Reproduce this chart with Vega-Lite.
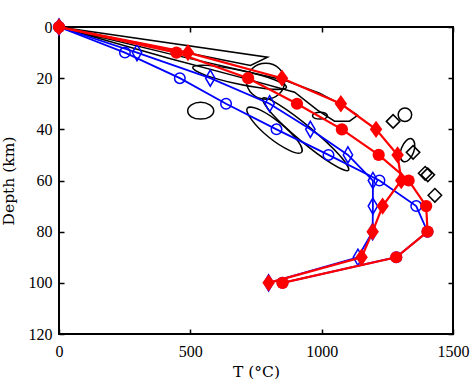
{
  "$schema": "https://vega.github.io/schema/vega-lite/v6.json",
  "width": 394,
  "height": 307,
  "autosize": {"type": "none"},
  "padding": {"left": 59, "top": 27, "right": 18, "bottom": 58},
  "config": {
    "view": {"stroke": "black", "strokeWidth": 2},
    "axis": {
      "labelFont": "Liberation Serif",
      "titleFont": "DejaVu Serif",
      "labelFontSize": 16,
      "titleFontSize": 15.5,
      "titleFontWeight": "normal",
      "labelColor": "black",
      "titleColor": "black",
      "tickColor": "black",
      "tickWidth": 1.5,
      "tickSize": -5,
      "domain": false,
      "grid": false,
      "labelFlush": false,
      "labelOverlap": false,
      "format": "d"
    }
  },
  "datasets": {
    "series": [
      {"s": "bc", "T": 0, "D": 0}, {"s": "bc", "T": 251, "D": 10}, {"s": "bc", "T": 460, "D": 20}, {"s": "bc", "T": 636, "D": 30}, {"s": "bc", "T": 828, "D": 40}, {"s": "bc", "T": 1026, "D": 50}, {"s": "bc", "T": 1220, "D": 60}, {"s": "bc", "T": 1360, "D": 70}, {"s": "bc", "T": 1403, "D": 80}, {"s": "bc", "T": 1284, "D": 90}, {"s": "bc", "T": 851, "D": 100},
      {"s": "bd", "T": 0, "D": 0}, {"s": "bd", "T": 297, "D": 10}, {"s": "bd", "T": 576, "D": 20}, {"s": "bd", "T": 802, "D": 30}, {"s": "bd", "T": 957, "D": 40}, {"s": "bd", "T": 1100, "D": 50}, {"s": "bd", "T": 1195, "D": 60}, {"s": "bd", "T": 1195, "D": 70}, {"s": "bd", "T": 1194, "D": 80}, {"s": "bd", "T": 1138, "D": 90}, {"s": "bd", "T": 798, "D": 100},
      {"s": "rc", "T": 0, "D": 0}, {"s": "rc", "T": 447, "D": 10}, {"s": "rc", "T": 720, "D": 20}, {"s": "rc", "T": 906, "D": 30}, {"s": "rc", "T": 1077, "D": 40}, {"s": "rc", "T": 1217, "D": 50}, {"s": "rc", "T": 1331, "D": 60}, {"s": "rc", "T": 1398, "D": 70}, {"s": "rc", "T": 1403, "D": 80}, {"s": "rc", "T": 1284, "D": 90}, {"s": "rc", "T": 851, "D": 100},
      {"s": "rd", "T": 0, "D": 0}, {"s": "rd", "T": 491, "D": 10}, {"s": "rd", "T": 849, "D": 20}, {"s": "rd", "T": 1073, "D": 30}, {"s": "rd", "T": 1207, "D": 40}, {"s": "rd", "T": 1289, "D": 50}, {"s": "rd", "T": 1303, "D": 60}, {"s": "rd", "T": 1232, "D": 70}, {"s": "rd", "T": 1194, "D": 80}, {"s": "rd", "T": 1152, "D": 90}, {"s": "rd", "T": 798, "D": 100}
    ],
    "polys": [
      {"id": "A", "v": 0, "T": 0, "D": 0}, {"id": "A", "v": 1, "T": 794, "D": 11.8}, {"id": "A", "v": 2, "T": 729, "D": 15.0},
      {"id": "C", "v": 0, "T": 0, "D": 0}, {"id": "C", "v": 1, "T": 421, "D": 10.5}, {"id": "C", "v": 2, "T": 859, "D": 20.8}, {"id": "C", "v": 3, "T": 992, "D": 25.9}, {"id": "C", "v": 4, "T": 1087, "D": 31.0}, {"id": "C", "v": 5, "T": 1137, "D": 34.5}, {"id": "C", "v": 6, "T": 1106, "D": 36.8}, {"id": "C", "v": 7, "T": 1049, "D": 36.8}, {"id": "C", "v": 8, "T": 984, "D": 32.5}, {"id": "C", "v": 9, "T": 897, "D": 25.5}, {"id": "C", "v": 10, "T": 688, "D": 19.6}, {"id": "C", "v": 11, "T": 421, "D": 12.3}
    ],
    "ellipses": [
      {"id": "E", "v": 0, "T": 589, "D": 32.7}, {"id": "E", "v": 1, "T": 574, "D": 35.1}, {"id": "E", "v": 2, "T": 539, "D": 36.0}, {"id": "E", "v": 3, "T": 504, "D": 35.1}, {"id": "E", "v": 4, "T": 490, "D": 32.7}, {"id": "E", "v": 5, "T": 504, "D": 30.4}, {"id": "E", "v": 6, "T": 539, "D": 29.4}, {"id": "E", "v": 7, "T": 574, "D": 30.4},
      {"id": "Dd", "v": 0, "T": 1022, "D": 34.7}, {"id": "Dd", "v": 1, "T": 1014, "D": 35.7}, {"id": "Dd", "v": 2, "T": 994, "D": 36.0}, {"id": "Dd", "v": 3, "T": 974, "D": 35.7}, {"id": "Dd", "v": 4, "T": 965, "D": 34.7}, {"id": "Dd", "v": 5, "T": 974, "D": 33.7}, {"id": "Dd", "v": 6, "T": 994, "D": 33.3}, {"id": "Dd", "v": 7, "T": 1014, "D": 33.7},
      {"id": "B1", "v": 0, "T": 866, "D": 23.6}, {"id": "B1", "v": 1, "T": 810, "D": 24.3}, {"id": "B1", "v": 2, "T": 682, "D": 22.3}, {"id": "B1", "v": 3, "T": 557, "D": 18.8}, {"id": "B1", "v": 4, "T": 509, "D": 15.8}, {"id": "B1", "v": 5, "T": 565, "D": 15.0}, {"id": "B1", "v": 6, "T": 693, "D": 17.0}, {"id": "B1", "v": 7, "T": 818, "D": 20.5},
      {"id": "B2", "v": 0, "T": 859, "D": 21.2}, {"id": "B2", "v": 1, "T": 838, "D": 26.2}, {"id": "B2", "v": 2, "T": 787, "D": 28.2}, {"id": "B2", "v": 3, "T": 736, "D": 26.2}, {"id": "B2", "v": 4, "T": 714, "D": 21.2}, {"id": "B2", "v": 5, "T": 736, "D": 16.2}, {"id": "B2", "v": 6, "T": 787, "D": 14.2}, {"id": "B2", "v": 7, "T": 838, "D": 16.2},
      {"id": "F", "v": 0, "T": 924, "D": 48.9}, {"id": "F", "v": 1, "T": 879, "D": 48.3}, {"id": "F", "v": 2, "T": 799, "D": 43.1}, {"id": "F", "v": 3, "T": 733, "D": 36.2}, {"id": "F", "v": 4, "T": 717, "D": 31.7}, {"id": "F", "v": 5, "T": 763, "D": 32.3}, {"id": "F", "v": 6, "T": 842, "D": 37.6}, {"id": "F", "v": 7, "T": 909, "D": 44.5},
      {"id": "G", "v": 0, "T": 1102, "D": 56.0}, {"id": "G", "v": 1, "T": 1040, "D": 53.5}, {"id": "G", "v": 2, "T": 919, "D": 44.3}, {"id": "G", "v": 3, "T": 809, "D": 33.7}, {"id": "G", "v": 4, "T": 776, "D": 27.8}, {"id": "G", "v": 5, "T": 837, "D": 30.3}, {"id": "G", "v": 6, "T": 958, "D": 39.5}, {"id": "G", "v": 7, "T": 1068, "D": 50.1},
      {"id": "H", "v": 0, "T": 1311, "D": 52.6}, {"id": "H", "v": 1, "T": 1299, "D": 50.6}, {"id": "H", "v": 2, "T": 1304, "D": 47.3}, {"id": "H", "v": 3, "T": 1322, "D": 44.4}, {"id": "H", "v": 4, "T": 1342, "D": 43.7}, {"id": "H", "v": 5, "T": 1354, "D": 45.6}, {"id": "H", "v": 6, "T": 1350, "D": 49.0}, {"id": "H", "v": 7, "T": 1332, "D": 51.9}
    ],
    "bcirc": [{"T": 1317, "D": 34.3}],
    "bdiam": [{"T": 1272, "D": 36.9}, {"T": 1348, "D": 49.0}, {"T": 1394, "D": 57.2}, {"T": 1404, "D": 57.8}, {"T": 1431, "D": 65.8}]
  },
  "resolve": {"axis": {"x": "independent", "y": "independent"}},
  "layer": [
    {
      "data": {"name": "polys"},
      "mark": {"type": "line", "interpolate": "linear-closed", "stroke": "black", "strokeWidth": 1.5},
      "encoding": {
        "x": {"field": "T", "type": "quantitative", "scale": {"domain": [0, 1500], "nice": false},
              "axis": {"orient": "bottom", "values": [0, 500, 1000, 1500], "labelPadding": 14, "title": "T (°C)", "titlePadding": 5}},
        "y": {"field": "D", "type": "quantitative", "scale": {"domain": [0, 120], "reverse": true, "nice": false},
              "axis": {"orient": "left", "values": [0, 20, 40, 60, 80, 100, 120], "labelPadding": 12, "title": "Depth (km)", "titlePadding": 12}},
        "detail": {"field": "id"},
        "order": {"field": "v"}
      }
    },
    {
      "data": {"name": "ellipses"},
      "mark": {"type": "line", "interpolate": "cardinal-closed", "stroke": "black", "strokeWidth": 1.5},
      "encoding": {
        "x": {"field": "T", "type": "quantitative", "scale": {"domain": [0, 1500], "nice": false}, "axis": null},
        "y": {"field": "D", "type": "quantitative", "scale": {"domain": [0, 120], "reverse": true, "nice": false}, "axis": null},
        "detail": {"field": "id"},
        "order": {"field": "v"}
      }
    },
    {
      "data": {"name": "bcirc"},
      "mark": {"type": "point", "shape": "circle", "filled": false, "stroke": "black", "strokeWidth": 1.5, "size": 182, "opacity": 1},
      "encoding": {
        "x": {"field": "T", "type": "quantitative", "scale": {"domain": [0, 1500], "nice": false}, "axis": null},
        "y": {"field": "D", "type": "quantitative", "scale": {"domain": [0, 120], "reverse": true, "nice": false}, "axis": null}
      }
    },
    {
      "data": {"name": "bdiam"},
      "mark": {"type": "point", "shape": "diamond", "filled": false, "stroke": "black", "strokeWidth": 1.5, "size": 182, "opacity": 1},
      "encoding": {
        "x": {"field": "T", "type": "quantitative", "scale": {"domain": [0, 1500], "nice": false}, "axis": null},
        "y": {"field": "D", "type": "quantitative", "scale": {"domain": [0, 120], "reverse": true, "nice": false}, "axis": null}
      }
    },
    {
      "data": {"name": "series"},
      "transform": [{"filter": "datum.s === 'bc' || datum.s === 'bd'"}],
      "mark": {"type": "line", "stroke": "#0000ff", "strokeWidth": 1.8},
      "encoding": {
        "x": {"field": "T", "type": "quantitative", "scale": {"domain": [0, 1500], "nice": false}, "axis": null},
        "y": {"field": "D", "type": "quantitative", "scale": {"domain": [0, 120], "reverse": true, "nice": false}, "axis": null},
        "detail": {"field": "s"},
        "order": {"field": "D"}
      }
    },
    {
      "data": {"name": "series"},
      "transform": [{"filter": "datum.s === 'bc'"}],
      "mark": {"type": "point", "shape": "circle", "filled": false, "stroke": "#0000ff", "strokeWidth": 1.5, "size": 110, "opacity": 1},
      "encoding": {
        "x": {"field": "T", "type": "quantitative", "scale": {"domain": [0, 1500], "nice": false}, "axis": null},
        "y": {"field": "D", "type": "quantitative", "scale": {"domain": [0, 120], "reverse": true, "nice": false}, "axis": null}
      }
    },
    {
      "data": {"name": "series"},
      "transform": [{"filter": "datum.s === 'bd'"}],
      "mark": {"type": "point", "shape": "M0,-1L0.58,0L0,1L-0.58,0Z", "filled": false, "stroke": "#0000ff", "strokeWidth": 1.5, "size": 260, "opacity": 1},
      "encoding": {
        "x": {"field": "T", "type": "quantitative", "scale": {"domain": [0, 1500], "nice": false}, "axis": null},
        "y": {"field": "D", "type": "quantitative", "scale": {"domain": [0, 120], "reverse": true, "nice": false}, "axis": null}
      }
    },
    {
      "data": {"name": "series"},
      "transform": [{"filter": "datum.s === 'rc' || datum.s === 'rd'"}],
      "mark": {"type": "line", "stroke": "#ff0000", "strokeWidth": 2.2},
      "encoding": {
        "x": {"field": "T", "type": "quantitative", "scale": {"domain": [0, 1500], "nice": false}, "axis": null},
        "y": {"field": "D", "type": "quantitative", "scale": {"domain": [0, 120], "reverse": true, "nice": false}, "axis": null},
        "detail": {"field": "s"},
        "order": {"field": "D"}
      }
    },
    {
      "data": {"name": "series"},
      "transform": [{"filter": "datum.s === 'rc'"}],
      "mark": {"type": "point", "shape": "circle", "filled": true, "fill": "#ff0000", "size": 150, "opacity": 1},
      "encoding": {
        "x": {"field": "T", "type": "quantitative", "scale": {"domain": [0, 1500], "nice": false}, "axis": null},
        "y": {"field": "D", "type": "quantitative", "scale": {"domain": [0, 120], "reverse": true, "nice": false}, "axis": null}
      }
    },
    {
      "data": {"name": "series"},
      "transform": [{"filter": "datum.s === 'rd'"}],
      "mark": {"type": "point", "shape": "M0,-1L0.72,0L0,1L-0.72,0Z", "filled": true, "fill": "#ff0000", "size": 300, "opacity": 1},
      "encoding": {
        "x": {"field": "T", "type": "quantitative", "scale": {"domain": [0, 1500], "nice": false},
              "axis": {"orient": "top", "values": [0, 500, 1000, 1500], "labels": false, "title": null}},
        "y": {"field": "D", "type": "quantitative", "scale": {"domain": [0, 120], "reverse": true, "nice": false},
              "axis": {"orient": "right", "values": [0, 20, 40, 60, 80, 100, 120], "labels": false, "title": null}}
      }
    }
  ]
}
